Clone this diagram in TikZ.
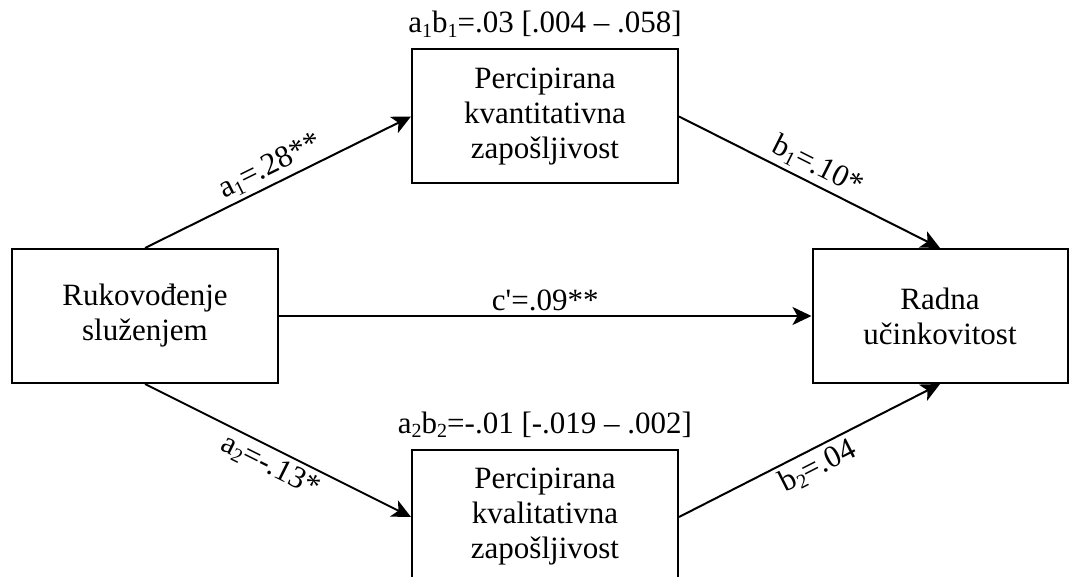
\documentclass[tikz,border=0pt]{standalone}
\usepackage{fontspec}
\setmainfont{Liberation Serif}[Ligatures=TeXOff]
\usetikzlibrary{arrows.meta}
\newcommand{\sbs}[1]{\raisebox{-0.32ex}{\fontsize{20bp}{20bp}\selectfont #1}}
\begin{document}
\begin{tikzpicture}[x=1bp,y=-1bp,
  every node/.append style={font=\fontsize{31bp}{35bp}\selectfont},
  box/.style={draw, line width=2bp, minimum width=266bp, minimum height=134bp, align=center, inner sep=0pt},
  conn/.style={line width=2bp, -{Stealth[length=19bp,width=18bp,inset=5bp]}},
  lab/.style={inner sep=4bp}]
\useasboundingbox (0,0) rectangle (1069,577);
\begin{scope}
\clip (0,0) rectangle (1069,577);
\node[box] (X) at (145,316) {Rukovođenje\\služenjem};
\node[box] (M1) at (545,116.5) {Percipirana\\kvantitativna\\zapošljivost};
\node[box, minimum width=255bp] (Y) at (940,316) {Radna\\učinkovitost};
\node[box] (M2) at (545,517) {Percipirana\\kvalitativna\\zapošljivost};
\end{scope}
\draw[conn] (X.north) -- node[lab, sloped, above, pos=0.5] {a\sbs{1}=.28**} (M1.west);
\draw[conn] (M1.east) -- node[lab, sloped, above, pos=0.5] {b\sbs{1}=.10*} (Y.north);
\draw[conn] (X.east) -- node[lab, above, pos=0.5] {c'=.09**} (Y.west);
\draw[conn] (X.south) -- node[lab, sloped, below, pos=0.5] {a\sbs{2}=-.13*} (M2.west);
\draw[conn] (M2.east) -- node[lab, sloped, below, pos=0.5] {b\sbs{2}=.04} (Y.south);
\node[anchor=base, inner sep=0pt] (L1) at ([yshift=16bp]M1.north) {a\sbs{1}b\sbs{1}=.03 [.004 – .058]};
\node[anchor=base, inner sep=0pt] (L2) at ([yshift=16bp]M2.north) {a\sbs{2}b\sbs{2}=-.01 [-.019 – .002]};
\end{tikzpicture}
\end{document}
